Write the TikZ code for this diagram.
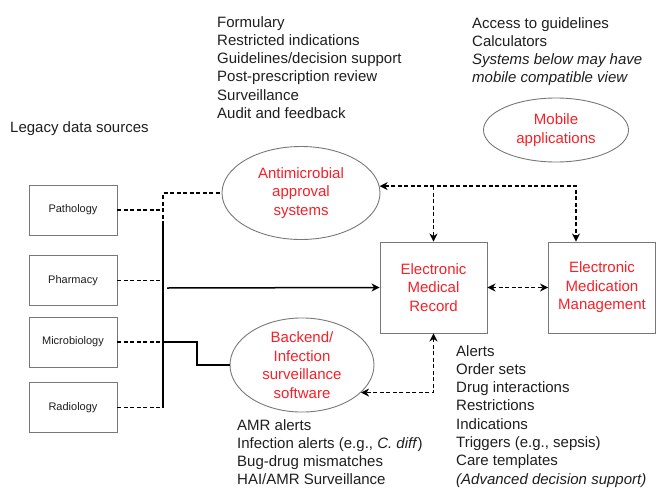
\documentclass[tikz,border=0pt]{standalone}
\usepackage{fontspec}
\setmainfont{Liberation Sans}
\usetikzlibrary{shapes.geometric,arrows.meta}
\definecolor{redtxt}{RGB}{246,32,40}
\definecolor{darktxt}{RGB}{30,30,30}
\definecolor{edgegray}{RGB}{120,120,120}
\tikzset{
  srcbox/.style={draw=edgegray,line width=0.9pt,minimum width=88pt,minimum height=50pt,inner sep=0pt,font=\fontsize{11}{13}\selectfont,text=darktxt},
  sysbox/.style={draw=edgegray,line width=0.9pt,minimum width=107pt,minimum height=91pt,inner sep=0pt,align=center,text=redtxt,font=\fontsize{15}{18.5}\selectfont},
  sysell/.style={ellipse,draw=edgegray,line width=0.9pt,inner sep=0pt,align=center,text=redtxt,font=\fontsize{15}{18.5}\selectfont},
  listtxt/.style={anchor=north west,inner sep=0pt,align=left,text=darktxt,font=\fontsize{15}{18.3}\selectfont},
  conn/.style={line width=1.5pt,black},
  dconn/.style={line width=1.5pt,black,dash pattern=on 4pt off 2.5pt},
  tip/.style={-{Stealth[length=8pt,width=8pt,inset=2.5pt]}},
  tips/.style={{Stealth[length=8pt,width=8pt,inset=2.5pt]}-{Stealth[length=8pt,width=8pt,inset=2.5pt]}}
}
\begin{document}
\begin{tikzpicture}[x=1pt,y=-1pt]
\useasboundingbox (0,0) rectangle (660,487);
% texts
\node[listtxt] (toplist) at (217,16) {Formulary\\Restricted indications\\Guidelines/decision support\\Post-prescription review\\Surveillance\\Audit and feedback};
\node[listtxt] (mobilelist) at (472,17) {Access to guidelines\\Calculators\\\textit{Systems below may have}\\\textit{mobile compatible view}};
\node[anchor=west,inner sep=0pt,text=darktxt,font=\fontsize{15}{18}\selectfont] (legacy) at (10,129) {Legacy data sources};
\node[listtxt] (amrlist) at (237,419) {AMR alerts\\Infection alerts (e.g., \textit{C. diff})\\Bug-drug mismatches\\HAI/AMR Surveillance};
\node[listtxt] (emrlist) at (456,345) {Alerts\\Order sets\\Drug interactions\\Restrictions\\Indications\\Triggers (e.g., sepsis)\\Care templates\\\textit{(Advanced decision support)}};
% source boxes
\node[srcbox] (path) at (73,210) {Pathology};
\node[srcbox] (pharm) at (73,280.5) {Pharmacy};
\node[srcbox] (micro) at (73,342) {Microbiology};
\node[srcbox] (radio) at (73,407.5) {Radiology};
% systems
\node[sysell,minimum width=158pt,minimum height=93pt] (amr) at (301,193) {Antimicrobial\\approval\\systems};
\node[sysell,minimum width=144pt,minimum height=92pt] (backend) at (302,365) {Backend/\\Infection\\surveillance\\software};
\node[sysell,minimum width=145pt,minimum height=64pt] (mobile) at (556,130) {Mobile\\applications};
\node[sysbox] (emr) at (433.5,287.5) {Electronic\\Medical\\Record};
\node[sysbox] (emm) at (602,287.5) {Electronic\\Medication\\Management};
% bus
\coordinate (busTop) at (163,193);
\coordinate (busMid) at (163,225);
\coordinate (busBot) at (163,408);
\coordinate (topR) at (576,186);
\coordinate (step) at (197,365);
\draw[dconn] (path.east) -- (path.east -| busTop);
\draw[dconn] (busMid) -- (busTop) -- (amr.west);
\draw[conn] (busMid) -- (busBot);
\draw[dconn] (pharm.east) -- (pharm.east -| busTop);
\draw[dconn] (micro.east) -- (micro.east -| busTop);
\draw[dconn] (radio.east) -- (radio.east -| busTop);
\draw[conn,tip] (167,288) -- (emr.west);
\draw[conn] (micro.east -| busTop) -- (micro.east -| step) -- (step) -- (backend.west);
% top dashed arrows
\draw[dconn,tips] (amr.5) -- (amr.5 -| topR) -- (topR |- emm.north);
\draw[dconn,tip] (amr.5 -| emr.north) -- (emr.north);
\draw[dconn,tips] (emr.east) -- (emm.west);
\draw[dconn,tips] (emr.south) -- (emr.south |- backend.-25) -- (backend.-25);
\end{tikzpicture}
\end{document}
